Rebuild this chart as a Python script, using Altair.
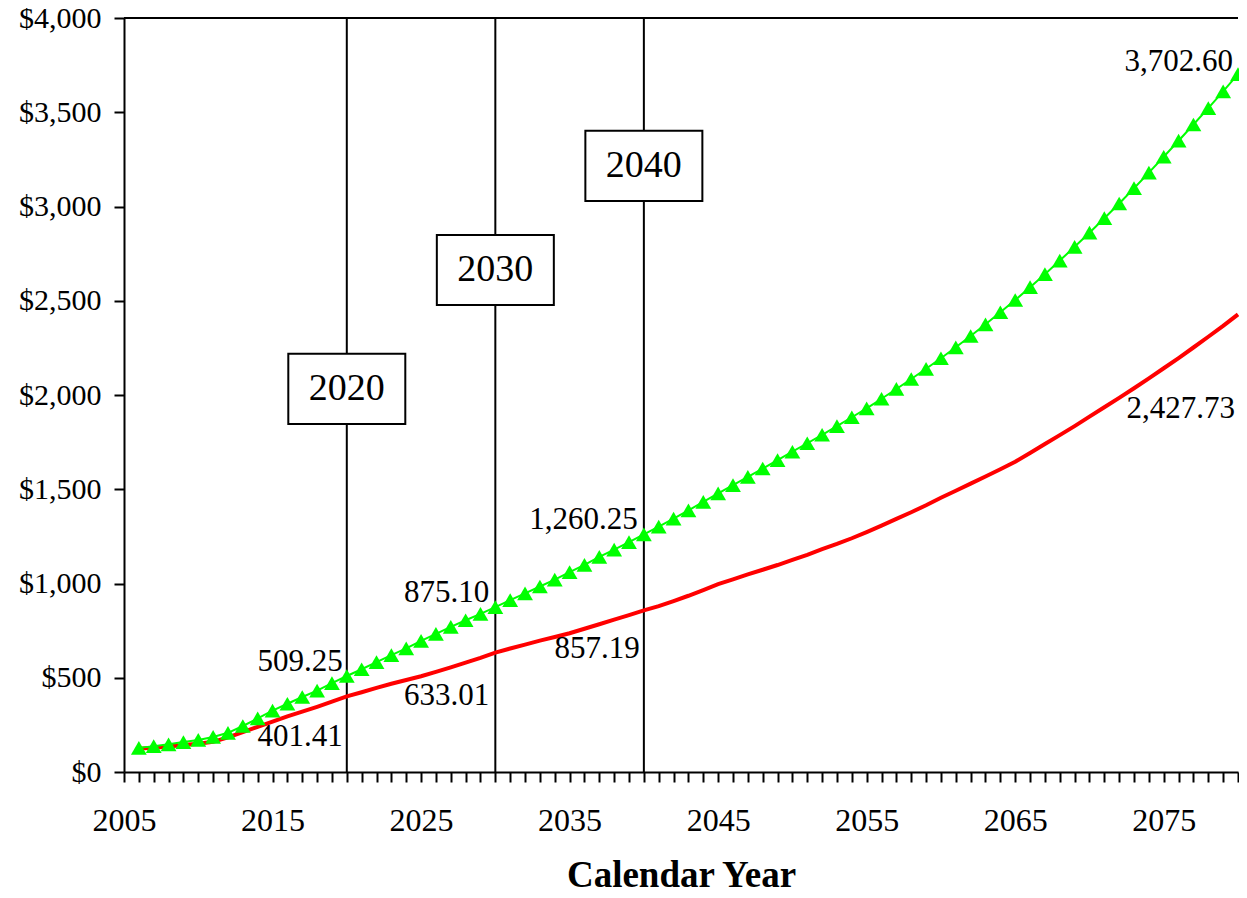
import altair as alt
import pandas as pd

years = list(range(2006, 2081))
upper_series = [
    128, 137, 147, 159, 170, 186, 208, 244, 284, 326,
    362, 398, 432, 472, 509.25, 545, 583, 620, 656, 696,
    733, 770, 805, 839, 875.10, 912, 948, 984, 1021, 1060,
    1099, 1141, 1180, 1219, 1260.25, 1302, 1344, 1388, 1433, 1478,
    1522, 1566, 1610, 1654, 1699, 1744, 1789, 1835, 1882, 1929,
    1980, 2032, 2085, 2139, 2195, 2253, 2313, 2375, 2439, 2504,
    2572, 2641, 2713, 2786, 2861, 2938, 3016, 3097, 3180, 3264,
    3349, 3435, 3522, 3611, 3702.60,
]
lower_series = [
    124, 129, 135, 143, 150, 160, 184, 212, 240, 267,
    295, 320, 346, 373, 401.41, 423, 446, 468, 488, 508,
    531, 555, 580, 605, 633.01, 655, 676, 697, 716, 736,
    760, 784, 808, 832, 857.19, 880, 907, 935, 965, 997,
    1022, 1048, 1073, 1098, 1125, 1152, 1182, 1210, 1240, 1273,
    1307, 1343, 1378, 1415, 1455, 1492, 1530, 1568, 1606, 1646,
    1692, 1740, 1787, 1835, 1885, 1935, 1985, 2036, 2088, 2142,
    2196, 2252, 2309, 2367, 2427.73,
]
marker_years = [2020, 2030, 2040]
marker_box_levels = [2032, 2663, 3215]
label_years = [2020, 2030, 2040, 2080]
x_tick_years = list(range(2005, 2081))
y_tick_values = list(range(0, 4001, 500))

FONT = "Liberation Serif"

upper_df = pd.DataFrame({"year": years, "value": upper_series})
lower_df = pd.DataFrame({"year": years, "value": lower_series})
markers_df = pd.DataFrame({"year": marker_years, "value": marker_box_levels,
                           "label": [str(y) for y in marker_years]})

x_axis = alt.Axis(
    values=x_tick_years, format="d",
    labelExpr="datum.value % 10 == 5 ? datum.label : ''",
    labelFont=FONT, labelFontSize=32, labelColor="black",
    labelBaseline="alphabetic", labelPadding=48,
    labelFlush=False, labelOverlap=False,
    tickSize=10, tickColor="black", tickWidth=2,
    domainColor="black", domainWidth=2, grid=False,
    titleFont=FONT, titleFontSize=37, titleFontWeight="bold", titleColor="black",
    titleY=114, titleBaseline="alphabetic",
)
y_axis = alt.Axis(
    values=y_tick_values, format="$,.0f",
    labelFont=FONT, labelFontSize=30, labelColor="black", labelPadding=13,
    tickSize=10, tickColor="black", tickWidth=2,
    domainColor="black", domainWidth=2, grid=False,
)
x_scale = alt.Scale(domain=[2005, 2080], nice=False, zero=False)
y_scale = alt.Scale(domain=[0, 4000], nice=False)


def X():
    return alt.X("year:Q", scale=x_scale, axis=x_axis, title="Calendar Year")


def Y():
    return alt.Y("value:Q", scale=y_scale, axis=y_axis, title=None)


top_line = alt.Chart(upper_df).mark_rule(color="black", strokeWidth=2).encode(
    y=alt.datum(4000, scale=y_scale, axis=y_axis)
)

vlines = alt.Chart(pd.DataFrame({"year": marker_years})).mark_rule(
    color="black", strokeWidth=2
).encode(x=X())

lower_line = alt.Chart(lower_df).mark_line(color="#FF0000", strokeWidth=4).encode(x=X(), y=Y())
upper_line = alt.Chart(upper_df).mark_line(color="#00FF00", strokeWidth=2).encode(x=X(), y=Y())
upper_pts = alt.Chart(upper_df).mark_point(
    shape="triangle-up", size=250, filled=True, color="#00FF00", opacity=1
).encode(x=X(), y=Y())

boxes = alt.Chart(markers_df).mark_point(
    shape="M-1,-0.6L1,-0.6L1,0.6L-1,0.6Z", size=117 * 117,
    filled=True, fill="white", stroke="black", strokeWidth=2, opacity=1,
).encode(x=X(), y=Y())
box_text = alt.Chart(markers_df).mark_text(
    font=FONT, fontSize=38, color="black", baseline="middle", align="center"
).encode(x=X(), y=Y(), text="label:N")

# annotation offsets (style only)
upper_offsets = {2020: (-4, -5), 2030: (-6, -5), 2040: (-6, -5), 2080: (-5, -3)}
lower_offsets = {2020: (-4, 50), 2030: (-6, 52), 2040: (-4, 48), 2080: (-3, 104)}

annot_layers = []
for series, offsets in ((upper_series, upper_offsets), (lower_series, lower_offsets)):
    for yr in label_years:
        v = series[years.index(yr)]
        d = pd.DataFrame({"year": [yr], "value": [v], "label": [f"{v:,.2f}"]})
        dx, dy = offsets[yr]
        annot_layers.append(
            alt.Chart(d).mark_text(
                font=FONT, fontSize=31, color="black", align="right",
                baseline="alphabetic", dx=dx, dy=dy,
            ).encode(x=X(), y=Y(), text="label:N")
        )

chart = alt.layer(
    top_line, vlines, lower_line, upper_line, upper_pts, boxes, box_text, *annot_layers
).properties(
    width=1114, height=754,
    autosize=alt.AutoSizeParams(type="none"),
    padding={"left": 116, "top": 10, "right": 1, "bottom": 116},
    background="white",
).configure_view(stroke="transparent")

chart.save("out.html", embed_options={"renderer": "svg", "actions": False})
